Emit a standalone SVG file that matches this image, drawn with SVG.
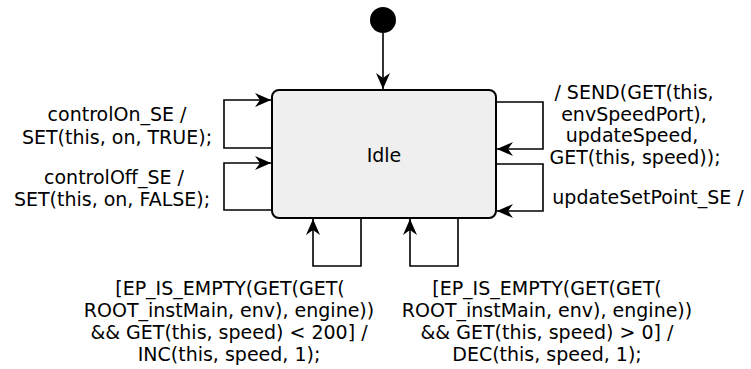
<svg xmlns="http://www.w3.org/2000/svg" width="751" height="369" viewBox="0 0 751 369">
<style>
text{font-family:"DejaVu Sans","Liberation Sans",sans-serif;font-size:19px;fill:#000;text-anchor:middle}
.ln{fill:none;stroke:#000;stroke-width:1.6}
</style>
<defs>
<marker id="arr" markerUnits="userSpaceOnUse" markerWidth="20" markerHeight="20" viewBox="-18 -10 20 20" refX="0" refY="0" orient="auto">
<path d="M0,0 L-16,-7 L-11,0 L-16,7 Z" fill="#000"/>
</marker>
</defs>
<rect width="751" height="369" fill="#fff"/>
<g id="initial"><circle cx="383" cy="20" r="13" fill="#000"/></g>
<g id="idle">
<rect x="272" y="90" width="224" height="128" rx="7" fill="#efefef" stroke="#000" stroke-width="2"/>
<text x="384" y="162">Idle</text>
</g>
<g id="connectors">
<path class="ln" d="M383,33 V89" marker-end="url(#arr)"/>
<path class="ln" d="M272,148 H224 V100 H271" marker-end="url(#arr)"/>
<path class="ln" d="M272,210 H224 V163 H271" marker-end="url(#arr)"/>
<path class="ln" d="M496,102 H543 V149 H497" marker-end="url(#arr)"/>
<path class="ln" d="M496,164 H543 V211 H497" marker-end="url(#arr)"/>
<path class="ln" d="M361,218 V266 H313 V219" marker-end="url(#arr)"/>
<path class="ln" d="M458,218 V266 H410 V219" marker-end="url(#arr)"/>
</g>
<g id="labels">
<text x="117" y="121">controlOn_SE /</text>
<text x="117" y="143.5">SET(this, on, TRUE);</text>
<text x="114" y="184">controlOff_SE /</text>
<text x="112" y="206">SET(this, on, FALSE);</text>
<text x="634" y="99">/ SEND(GET(this,</text>
<text x="634" y="120.5">envSpeedPort),</text>
<text x="632" y="142">updateSpeed,</text>
<text x="635" y="163.5">GET(this, speed));</text>
<text x="648" y="204">updateSetPoint_SE /</text>
<text x="230" y="295">[EP_IS_EMPTY(GET(GET(</text>
<text x="229" y="317">ROOT_instMain, env), engine))</text>
<text x="229" y="339">&amp;&amp; GET(this, speed) &lt; 200] /</text>
<text x="229" y="361">INC(this, speed, 1);</text>
<text x="547" y="295">[EP_IS_EMPTY(GET(GET(</text>
<text x="547" y="317">ROOT_instMain, env), engine))</text>
<text x="547" y="339">&amp;&amp; GET(this, speed) &gt; 0] /</text>
<text x="547" y="361">DEC(this, speed, 1);</text>
</g>
</svg>
